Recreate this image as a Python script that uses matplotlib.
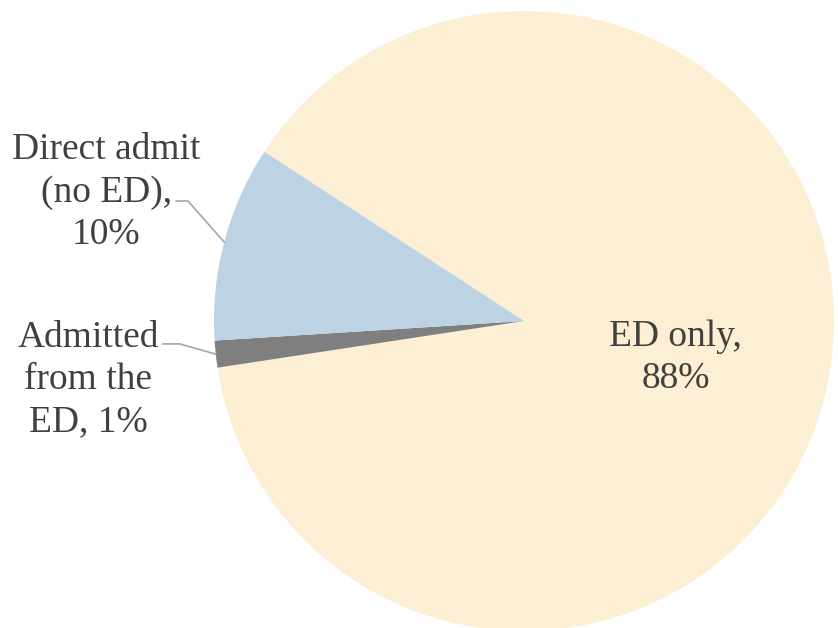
import numpy as np
import matplotlib
matplotlib.use('Agg')
import matplotlib.pyplot as plt

# Shares of visits (percent)
categories = ['ED only', 'Admitted\nfrom the\nED', 'Direct admit\n(no ED)']
values = [88.4, 1.4, 10.2]
shown_pct = ['88%', '1%', '10%']
colors = ['#FDEFD3', '#7F7F7F', '#BDD3E4']

plt.rcParams['font.family'] = ['Liberation Serif', 'DejaVu Serif']
text_color = '#404040'

fig = plt.figure(figsize=(8.38, 6.28), dpi=100)
ax = fig.add_axes([0, 0, 1, 1])

wedges, _ = ax.pie(values, colors=colors, startangle=146.9, counterclock=False,
                   wedgeprops=dict(linewidth=0))
ax.set_aspect('auto')
ax.set_xlim(-524 / 310, 314 / 310)
ax.set_ylim(-307 / 310, 321 / 310)
ax.axis('off')

def mid_point(w, r=1.0):
    a = np.deg2rad((w.theta1 + w.theta2) / 2)
    return r * np.cos(a), r * np.sin(a)

fs = 27
ls = 1.3

# ED only label inside the slice
x, y = mid_point(wedges[0], 0.5)
ax.text(x, y - 0.012, 'ED only,\n' + shown_pct[0], ha='center', va='center',
        fontsize=fs, color=text_color, linespacing=ls)

# outside labels with leader lines
ax.text(-1.348, 0.415, 'Direct admit\n(no ED),\n' + shown_pct[2], ha='center', va='center',
        fontsize=fs, color=text_color, linespacing=ls)
ex, ey = mid_point(wedges[2])
ax.plot([-1.122, -1.084, ex], [0.387, 0.387, ey], color='#A6A6A6', lw=1.2)

ax.text(-1.406, -0.19, 'Admitted\nfrom the\nED, ' + shown_pct[1], ha='center', va='center',
        fontsize=fs, color=text_color, linespacing=ls)
ex, ey = mid_point(wedges[1])
ax.plot([-1.165, -1.11, ex], [-0.074, -0.074, ey], color='#A6A6A6', lw=1.2)

fig.savefig('out.png', dpi=100)
